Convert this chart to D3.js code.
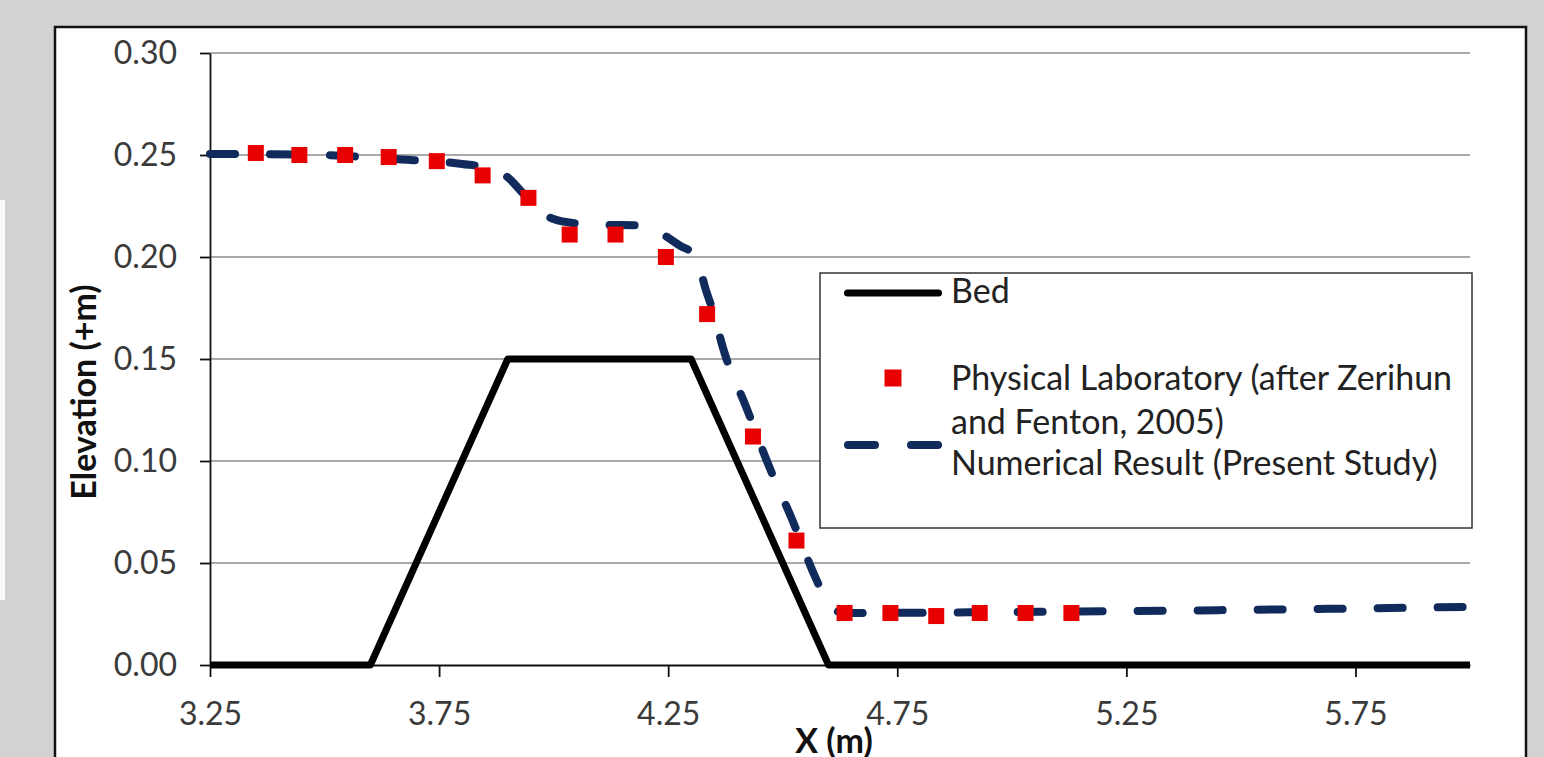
<!DOCTYPE html>
<html>
<head>
<meta charset="utf-8">
<script src="https://cdn.jsdelivr.net/npm/d3@7"></script>
<style>
  html, body { margin: 0; padding: 0; background: #d2d2d2; }
  svg { display: block; font-family: Lato, "Open Sans", sans-serif; }
</style>
</head>
<body>
<div id="grafico"></div>
<script>
// Bed profile
const bedX = [3.25, 3.6, 3.9, 4.3, 4.6, 6.0];
const bedY = [0, 0, 0.15, 0.15, 0, 0];

// Physical laboratory (after Zerihun and Fenton, 2005)
const labX = [3.35, 3.445, 3.545, 3.64, 3.745, 3.845, 3.945, 4.035, 4.135, 4.245,
              4.335, 4.435, 4.53, 4.635, 4.735, 4.835, 4.93, 5.03, 5.13];
const labY = [0.251, 0.250, 0.250, 0.249, 0.247, 0.240, 0.229, 0.211, 0.211, 0.200,
              0.172, 0.112, 0.061, 0.0255, 0.0255, 0.024, 0.0255, 0.0255, 0.0255];

// Numerical result (present study)
const numX = [3.25, 3.5, 3.65, 3.8, 3.86, 3.9, 3.93, 3.97, 4.0, 4.04, 4.1, 4.2, 4.235,
              4.28, 4.3, 4.315, 4.332, 4.347, 4.371, 4.421, 4.469, 4.52, 4.572, 4.6,
              4.633, 5.0, 5.5, 6.0];
const numY = [0.2505, 0.25, 0.248, 0.2456, 0.2435, 0.239, 0.232, 0.222, 0.2186, 0.2167,
              0.2158, 0.2155, 0.2115, 0.205, 0.2025, 0.1975, 0.184, 0.174, 0.1544, 0.126,
              0.098, 0.0716, 0.0426, 0.030, 0.0255, 0.026, 0.027, 0.0285];

const xTicks = [3.25, 3.75, 4.25, 4.75, 5.25, 5.75];
const yTicks = [0, 0.05, 0.10, 0.15, 0.20, 0.25, 0.30];

const largura = 1544;
const altura = 757;
const margem = { top: 53, right: 74, bottom: 92, left: 210 };

const svg = d3.select("#grafico").append("svg")
    .attr("width", largura)
    .attr("height", altura);

// fundo cinza + caixa branca do gráfico
svg.append("rect").attr("width", largura).attr("height", altura).attr("fill", "#d2d2d2");
svg.append("rect").attr("x", 0).attr("y", 200).attr("width", 5).attr("height", 400).attr("fill", "#fafafa");
svg.append("rect")
    .attr("x", 55).attr("y", 27)
    .attr("width", 1471).attr("height", 760)
    .attr("fill", "#fff")
    .attr("stroke", "#111")
    .attr("stroke-width", 2.5);

// Escalas
const x = d3.scaleLinear().domain([3.25, 6.0]).range([margem.left, largura - margem.right]);
const y = d3.scaleLinear().domain([0, 0.30]).range([altura - margem.bottom, margem.top]);

// Grade horizontal
svg.append("g")
    .selectAll("line")
    .data(yTicks.filter(d => d > 0))
    .enter()
    .append("line")
    .attr("x1", x(3.25))
    .attr("x2", x(6.0))
    .attr("y1", d => y(d))
    .attr("y2", d => y(d))
    .attr("stroke", "#8c8c8c")
    .attr("stroke-width", 1.5);

// Eixos
const eixoY = svg.append("g")
    .attr("transform", `translate(${margem.left},0)`)
    .call(d3.axisLeft(y).tickValues(yTicks).tickFormat(d3.format(".2f")).tickSize(10).tickPadding(23).tickSizeOuter(0));

const eixoX = svg.append("g")
    .attr("transform", `translate(0,${altura - margem.bottom})`)
    .call(d3.axisBottom(x).tickValues(xTicks).tickFormat(d3.format(".2f")).tickSize(12).tickPadding(25).tickSizeOuter(0));

[eixoY, eixoX].forEach(g => {
    g.select(".domain").attr("stroke", "#111").attr("stroke-width", 1.8);
    g.selectAll(".tick line").attr("stroke", "#111").attr("stroke-width", 1.8);
    g.selectAll(".tick text")
        .style("font-size", "32px")
        .style("font-family", "Lato, 'Open Sans', sans-serif")
        .attr("fill", "#3a3a3a");
});

// Títulos dos eixos
svg.append("text")
    .attr("transform", "translate(96,392) rotate(-90)")
    .attr("text-anchor", "middle")
    .style("font-size", "34px")
    .style("font-weight", "bold")
    .attr("fill", "#111")
    .text("Elevation (+m)");

svg.append("text")
    .attr("x", 834)
    .attr("y", 753)
    .attr("text-anchor", "middle")
    .style("font-size", "34px")
    .style("font-weight", "bold")
    .attr("fill", "#111")
    .text("X (m)");

// Linhas
const linha = (xs, ys) => d3.line()
    .x(i => x(xs[i]))
    .y(i => y(ys[i]));

svg.append("path")
    .attr("d", linha(bedX, bedY)(d3.range(bedX.length)))
    .attr("fill", "none")
    .attr("stroke", "#000")
    .attr("stroke-width", 7)
    .attr("stroke-linejoin", "round");

svg.append("path")
    .attr("d", linha(numX, numY).curve(d3.curveMonotoneX)(d3.range(numX.length)))
    .attr("fill", "none")
    .attr("stroke", "#102a5c")
    .attr("stroke-width", 8)
    .attr("stroke-linecap", "round")
    .attr("stroke-dasharray", "25,35");

// Pontos do laboratório
const lado = 16;
svg.append("g")
    .selectAll("rect")
    .data(d3.range(labX.length))
    .enter()
    .append("rect")
    .attr("x", i => x(labX[i]) - lado / 2)
    .attr("y", i => y(labY[i]) - lado / 2)
    .attr("width", lado)
    .attr("height", lado)
    .attr("fill", "#e80000");

// Legenda
const leg = svg.append("g");
leg.append("rect")
    .attr("x", 820).attr("y", 273)
    .attr("width", 652).attr("height", 255)
    .attr("fill", "#fff")
    .attr("stroke", "#333")
    .attr("stroke-width", 1.5);

leg.append("line")
    .attr("x1", 847.5).attr("x2", 938.5).attr("y1", 293).attr("y2", 293)
    .attr("stroke", "#000").attr("stroke-width", 7).attr("stroke-linecap", "round");

leg.append("rect")
    .attr("x", 893 - 8.5).attr("y", 378 - 8.5)
    .attr("width", 17).attr("height", 17)
    .attr("fill", "#e80000");

leg.append("line")
    .attr("x1", 848).attr("x2", 938).attr("y1", 445).attr("y2", 445)
    .attr("stroke", "#102a5c").attr("stroke-width", 8).attr("stroke-linecap", "round")
    .attr("stroke-dasharray", "27,36");

const textosLegenda = [
    { t: "Bed", y: 303 },
    { t: "Physical Laboratory (after Zerihun", y: 390 },
    { t: "and Fenton, 2005)", y: 434 },
    { t: "Numerical Result (Present Study)", y: 475 }
];
leg.selectAll("text.item")
    .data(textosLegenda)
    .enter()
    .append("text")
    .attr("class", "item")
    .attr("x", 951)
    .attr("y", d => d.y)
    .style("font-size", "34px")
    .attr("fill", "#222")
    .text(d => d.t);
</script>
</body>
</html>
